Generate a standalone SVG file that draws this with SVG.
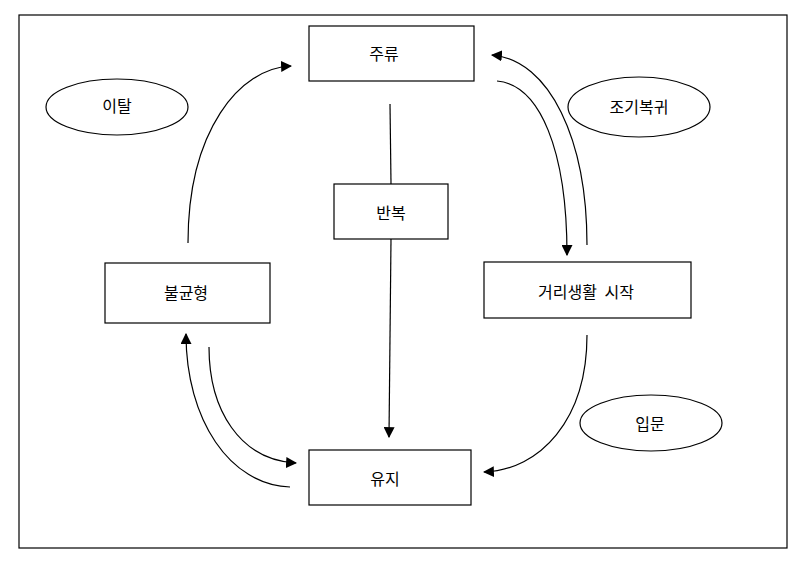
<svg xmlns="http://www.w3.org/2000/svg" width="803" height="566" viewBox="0 0 803 566">
<style>
.box{fill:#fff;stroke:#000;stroke-width:1.2}
.ell{fill:#fff;stroke:#000;stroke-width:1.2}
.t{font-family:"Noto Sans CJK KR","Noto Sans",sans-serif;font-size:16px;fill:#000;text-anchor:middle;dominant-baseline:central}
.c{fill:none;stroke:#000;stroke-width:1.2}
</style>
<defs>
<marker id="ah" viewBox="0 0 10 10" refX="9" refY="5" markerWidth="11" markerHeight="11" markerUnits="userSpaceOnUse" orient="auto">
<path d="M0,0 L10,5 L0,10 z" fill="#000"/>
</marker>
</defs>
<rect width="803" height="566" fill="#fff"/>
<rect x="19" y="15" width="768" height="533" fill="none" stroke="#000" stroke-width="1.2"/>
<g id="connectors">
<path class="c" d="M188,243 C188,130 240,68 291,66" marker-end="url(#ah)"/>
<path class="c" d="M497,81 C540,85 567,150 567,255" marker-end="url(#ah)"/>
<path class="c" d="M587,245 C587,140 550,60 492,55" marker-end="url(#ah)"/>
<path class="c" d="M587,335 C587,420 540,470 484,472" marker-end="url(#ah)"/>
<path class="c" d="M209,347 C209,410 240,460 296,463" marker-end="url(#ah)"/>
<path class="c" d="M290,487 C230,485 186,420 186,334" marker-end="url(#ah)"/>
<path class="c" d="M390,104 L391,184"/>
<path class="c" d="M391,239 L389,437" marker-end="url(#ah)"/>
</g>
<g id="n-juryu"><rect class="box" x="309" y="26" width="165" height="55"/><text class="t" x="384" y="53">주류</text></g>
<g id="n-banbok"><rect class="box" x="334" y="184" width="114" height="55"/><text class="t" x="391" y="212">반복</text></g>
<g id="n-yuji"><rect class="box" x="309" y="450" width="162" height="55"/><text class="t" x="385" y="478">유지</text></g>
<g id="n-bulgyunhyeong"><rect class="box" x="105" y="263" width="165" height="60"/><text class="t" x="186" y="292">불균형</text></g>
<g id="n-georisaenghwal"><rect class="box" x="484" y="262" width="207" height="56"/><text class="t" x="586" y="291" word-spacing="4">거리생활 시작</text></g>
<g id="n-ital"><ellipse class="ell" cx="117" cy="107" rx="71" ry="28"/><text class="t" x="117" y="105">이탈</text></g>
<g id="n-jogibokgwi"><ellipse class="ell" cx="639" cy="107" rx="71" ry="30"/><text class="t" x="639" y="106">조기복귀</text></g>
<g id="n-ipmun"><ellipse class="ell" cx="651" cy="423" rx="71" ry="28"/><text class="t" x="650" y="423">입문</text></g>
</svg>
